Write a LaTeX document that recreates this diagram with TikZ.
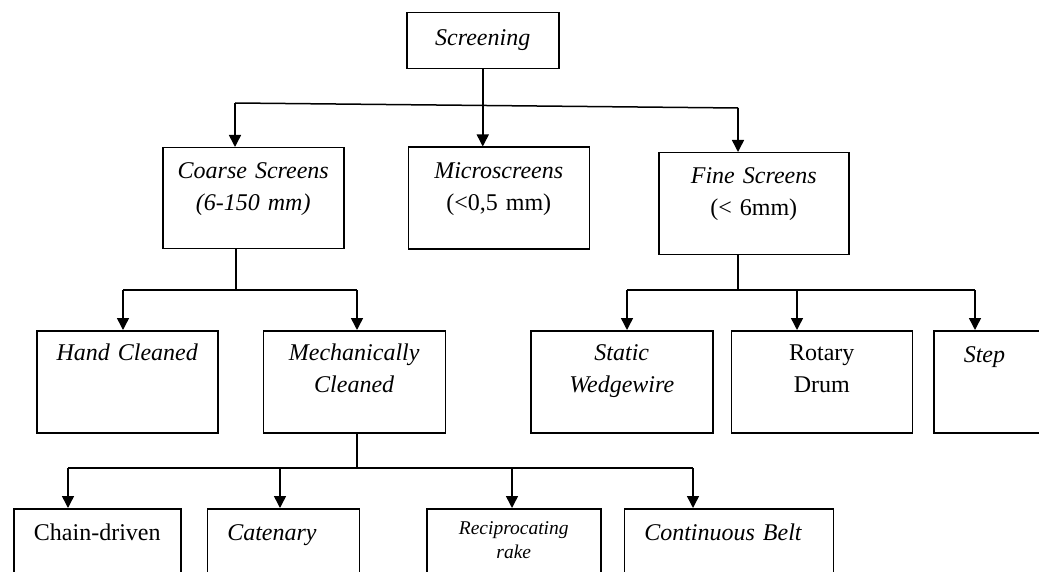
\documentclass[tikz,border=0pt]{standalone}
\usepackage{fontspec}
\setmainfont{Liberation Serif}
\usetikzlibrary{
  arrows.meta,
  positioning,
}
\tikzset{
  >={Triangle[width=12pt,length=12pt]},
}

\begin{document}
\begin{tikzpicture}[
      x=1pt, y=-1pt,
      line width=1.5pt,
      every node/.style={
        inner sep=0pt,
      },
      box/.style={draw,
        align=center,
        text width=181pt,
        text height=30pt, % first baseline below the top edge
        text depth=72pt,
      },
      leftbox/.style={
        align=left,
        inner xsep=20pt,
      },
      lowbox/.style={box,
        text height=32pt,
        text depth=90pt,
      },
      ]
      \fontsize{24}{32}\selectfont
      \useasboundingbox[fill=white] (0,0) rectangle (1039,572);

      \node[box, anchor=north west, text width=152pt, text height=33pt, text depth=23pt]
        (screen) at (406,12) {\textit{Screening}};

      \node[box, anchor=north west, text height=31pt, text depth=70pt]
        (coarse) at (162,147) {\textit{Coarse Screens} \\ \textit{(6-150 mm)}};
      \node[box, right=63pt of coarse, text height=31pt, text depth=71pt]
        (micro) {\textit{Microscreens} \\ (<0,5 mm)};
      \node[box, anchor=north west, text width=190pt, text height=31pt, text depth=71pt]
        (fine) at (658,152) {\textit{Fine Screens} \\ (< 6mm)};

      \node[box, anchor=north west] (hand) at (36,330) {\textit{Hand Cleaned}};
      \node[box, right=44pt of hand, text width=182pt] (mech) {\textit{Mechanically} \\ \textit{Cleaned}};
      \node[box, right=84pt of mech, text width=182pt] (static) {\textit{Static} \\ \textit{Wedgewire}};
      \node[box, right=17pt of static] (rotary) {Rotary \\ Drum};
      \node[box, leftbox, right=20pt of rotary, inner xsep=30pt, text width=70pt, text height=32pt, text depth=70pt]
        (step) {\textit{Step}};

      \node[lowbox, anchor=north west, text width=167pt] (chain) at (13,508) {Chain-driven};
      \node[lowbox, leftbox, right=25pt of chain, text width=112pt] (catenary) {\textit{Catenary}};
      \node[lowbox, right=66pt of catenary, text width=174pt, text height=26pt, text depth=96pt,
        font=\fontsize{19.5}{24}\selectfont]
        (recip) {\textit{Reciprocating} \\ \textit{rake}};
      \node[lowbox, leftbox, right=22pt of recip, text width=169pt] (belt) {\textit{Continuous Belt}};

      % forks
      \coordinate (top-l) at (235,103);
      \coordinate (top-r) at (738,108);
      \coordinate (coarse-fork) at (236,290);
      \coordinate (coarse-l) at (123,290);
      \coordinate (coarse-r) at (357,290);
      \coordinate (fine-fork) at (738,290);
      \coordinate (fine-l) at (627,290);
      \coordinate (fine-m) at (797,290);
      \coordinate (fine-r) at (975,290);
      \coordinate (mech-fork) at (357,468);
      \coordinate (mech-a) at (68,468);
      \coordinate (mech-b) at (280,468);
      \coordinate (mech-c) at (512,468);
      \coordinate (mech-d) at (693,468);

      \draw[->] (screen.south) -- (screen.south |- micro.north);
      \draw (top-l) -- (top-r);
      \draw[->] (top-l) -- (top-l |- coarse.north);
      \draw[->] (top-r) -- (top-r |- fine.north);

      \draw (coarse-fork |- coarse.south) -- (coarse-fork);
      \draw (coarse-l) -- (coarse-r);
      \draw[->] (coarse-l) -- (coarse-l |- hand.north);
      \draw[->] (coarse-r) -- (coarse-r |- mech.north);

      \draw (fine-fork |- fine.south) -- (fine-fork);
      \draw (fine-l) -- (fine-r);
      \draw[->] (fine-l) -- (fine-l |- static.north);
      \draw[->] (fine-m) -- (fine-m |- rotary.north);
      \draw[->] (fine-r) -- (fine-r |- step.north);

      \draw (mech-fork |- mech.south) -- (mech-fork);
      \draw (mech-a) -- (mech-d);
      \draw[->] (mech-a) -- (mech-a |- chain.north);
      \draw[->] (mech-b) -- (mech-b |- catenary.north);
      \draw[->] (mech-c) -- (mech-c |- recip.north);
      \draw[->] (mech-d) -- (mech-d |- belt.north);
    \end{tikzpicture}
\end{document}
